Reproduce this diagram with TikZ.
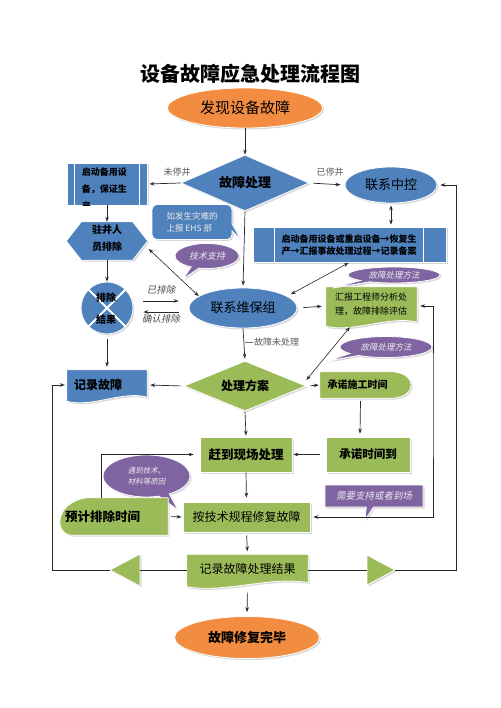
\documentclass[tikz,border=0pt]{standalone}
\usepackage{fontspec}
\setmainfont{Noto Sans CJK SC}
\newfontfamily\slfont{Noto Sans CJK SC}[FakeSlant=0.2]
\usetikzlibrary{shapes.geometric,shapes.callouts,arrows.meta,calc,shadows}
\definecolor{cblue}{RGB}{79,129,189}
\definecolor{cgreen}{RGB}{155,187,89}
\definecolor{cpurple}{RGB}{128,100,162}
\definecolor{corange}{RGB}{242,140,64}
\definecolor{cline}{RGB}{40,40,40}
\newcommand{\fs}[2]{\fontsize{#1}{#2}\selectfont}
\newcommand{\docshape}[2]{%
 \filldraw[#2] (#1.north west) -- (#1.north east) -- ($(#1.south east)+(0,-3)$)
  .. controls ($(#1.south west)!0.7!(#1.south east)+(0,-10)$) and ($(#1.south west)!0.3!(#1.south east)+(0,8)$) ..
  ($(#1.south west)+(0,1)$) -- cycle;}
\begin{document}
\begin{tikzpicture}[x=1pt,y=-1pt,
  shd/.style={drop shadow={opacity=0.3,shadow xshift=1.5pt,shadow yshift=-1.5pt}},
  nbase/.style={inner sep=0pt, draw=white, line width=0.8pt, shd, text=black},
  ell/.style={nbase, ellipse},
  rct/.style={nbase, rectangle},
  fillshape/.style={draw=white, line width=0.8pt, shd},
  arr/.style={-{Stealth[length=5pt,width=3.6pt]}, cline, line width=0.7pt},
  dbl/.style={{Stealth[length=5pt,width=3.6pt]}-{Stealth[length=5pt,width=3.6pt]}, cline, line width=0.6pt},
  lbl/.style={text=black!65, font=\fs{9}{11}},
  ilbl/.style={text=black!70, font=\slfont\fs{9.5}{11}},
  pcall/.style={fill=cpurple, draw=white, line width=0.8pt, shd, inner sep=0pt, text=white!92!black},
]
\fill[white] (0,0) rectangle (500,708);
\useasboundingbox (0,0) rectangle (500,708);

% title
\node[font=\bfseries\fs{20}{24}] (title) at (250,74) {设备故障应急处理流程图};

% top ellipse
\node[ell, fill=corange, minimum width=155pt, minimum height=40pt, font=\fs{15}{18}] (find) at (245,108) {发现设备故障};

% decision
\node[nbase, diamond, aspect=2.3, fill=cblue, minimum width=128pt, minimum height=56pt, font=\bfseries\fs{13}{15}] (dp) at (245,183) {故障处理};

% central control
\node[ell, fill=cblue, minimum width=92pt, minimum height=36pt, font=\fs{13}{15}] (ctrl) at (391,185) {联系中控};

% left predefined process
\node[rct, fill=cblue, minimum width=80pt, minimum height=42pt] (bk1) at (107,184) {};
\draw[white, line width=1pt] ([xshift=8pt]bk1.north west) -- ([xshift=8pt]bk1.south west)
  ([xshift=-8pt]bk1.north east) -- ([xshift=-8pt]bk1.south east);
\begin{scope}
\clip (bk1.north west) rectangle (bk1.south east);
\node[anchor=north west, align=left, font=\bfseries\fs{9}{17}, inner sep=0pt] (bk1t) at ([xshift=15pt,yshift=-5pt]bk1.north west) {启动备用设\\备，保证生\\产};
\end{scope}

% hexagon
\node[minimum width=81pt, minimum height=38pt, inner sep=0pt] (hx) at (107,241) {};
\filldraw[fill=cblue, fillshape] (hx.west) -- ([xshift=15pt]hx.north west) -- ([xshift=-15pt]hx.north east) -- (hx.east) -- ([xshift=-15pt]hx.south east) -- ([xshift=15pt]hx.south west) -- cycle;
\node[font=\bfseries\fs{10}{17}, align=center, inner sep=0pt] (hxt) at (107,238) {驻井人\\员排除};

% summing circle
\node[nbase, circle, fill=cblue, minimum size=52pt] (cx) at (107,308) {};
\draw[white, line width=2pt] (cx.north west) -- (cx.south east) (cx.north east) -- (cx.south west);
\node[font=\bfseries\fs{10}{22}, align=center, inner sep=0pt] (cxt) at (106,309) {排除\\结果};

% record fault (document)
\node[minimum width=80pt, minimum height=30pt, inner sep=0pt] (rec) at (107,385) {};
\docshape{rec}{fill=cblue, fillshape}
\node[font=\bfseries\fs{12}{14}] (rect) at ([xshift=-9pt]rec) {记录故障};

% maintenance ellipse
\node[ell, fill=cblue, minimum width=108pt, minimum height=40pt, font=\fs{13}{15}] (maint) at (243,308) {联系维保组};

% right predefined process
\node[rct, fill=cblue, minimum width=193pt, minimum height=35pt] (bk2) at (349.5,244.5) {};
\draw[white, line width=1pt] ([xshift=22pt]bk2.north west) -- ([xshift=22pt]bk2.south west)
  ([xshift=-23pt]bk2.north east) -- ([xshift=-23pt]bk2.south east);
\node[font=\bfseries\fs{9}{12.5}, align=left, inner sep=0pt] (bk2t) at (349,245) {启动备用设备或重启设备→恢复生\\产→汇报事故处理过程→记录备案};

% callouts
\node[rectangle callout, rounded corners=5pt, fill=cblue, draw=white, line width=0.8pt, shd, minimum width=80pt, minimum height=35pt, inner sep=0pt, callout absolute pointer={(241,240)}, text=white!92!black, font=\fs{8.5}{12}, align=left] (c1) at (192,222) {如发生灾难的\\上报 EHS 部};
\node[ellipse callout, pcall, minimum width=64pt, minimum height=25pt, callout absolute pointer={(183,279)}, font=\slfont\fs{9}{11}] (c2) at (207,256) {技术支持};

% report box (document)
\node[minimum width=91pt, minimum height=38pt, inner sep=0pt] (rep) at (371.5,306) {};
\docshape{rep}{fill=cgreen, fillshape}
\node[font=\fs{9}{14}, align=left, inner sep=0pt] (rept) at (371,304) {汇报工程师分析处\\理，故障排除评估};

\node[ellipse callout, pcall, minimum width=92pt, minimum height=16pt, callout absolute pointer={(333,288)}, font=\slfont\fs{8.5}{10}] (c3) at (394,275) {故障处理方法};
\node[ellipse callout, pcall, minimum width=92pt, minimum height=21pt, callout absolute pointer={(327,361)}, font=\slfont\fs{8.5}{10}] (c4) at (386,347) {故障处理方法};

% plan decision
\node[nbase, diamond, aspect=2.4, fill=cgreen, minimum width=122pt, minimum height=50pt, font=\bfseries\fs{12}{14}] (plan) at (245,386) {处理方案};

% promise construction time
\node[minimum width=93pt, minimum height=26pt, inner sep=0pt] (prom) at (366.5,385) {};
\filldraw[fill=cgreen, fillshape] (prom.north west) -- ([xshift=-20pt]prom.north east) .. controls ([xshift=4pt,yshift=-2pt]prom.north east) and ([xshift=4pt,yshift=2pt]prom.south east) .. ([xshift=-20pt]prom.south east) -- (prom.south west) -- cycle;
\node[font=\bfseries\fs{10}{12}] (promt) at ([xshift=-9pt]prom) {承诺施工时间};

% promise time reached
\node[rct, fill=cgreen, minimum width=84pt, minimum height=35pt, font=\bfseries\fs{11.5}{13}] (due) at (368,454.5) {承诺时间到};

% go to site
\node[rct, fill=cgreen, minimum width=92pt, minimum height=35pt, font=\bfseries\fs{12.5}{14}] (site) at (246,454.5) {赶到现场处理};

% callout reasons
\node[ellipse callout, pcall, minimum width=87pt, minimum height=42pt, callout absolute pointer={(178,510)}, font=\slfont\fs{7.5}{11}, align=center] (c5) at (146.5,476) {遇到技术、\\材料等原因};

% estimated time
\node[minimum width=111pt, minimum height=37pt, inner sep=0pt] (est) at (112.5,516.5) {};
\filldraw[fill=cgreen, fillshape] (est.north east) -- ([xshift=30pt]est.north west) .. controls ([xshift=-2pt,yshift=-4pt]est.north west) and ([xshift=-4pt]est.south west) .. ([xshift=16pt]est.south west) -- (est.south east) -- cycle;
\node[font=\bfseries\fs{12.5}{14}] (estt) at ([xshift=-10pt]est) {预计排除时间};

% fix
\node[rct, fill=cgreen, minimum width=127pt, minimum height=30pt, font=\fs{12}{14}] (fix) at (246.5,517) {按技术规程修复故障};

% need support callout
\node[rectangle callout, pcall, minimum width=98pt, minimum height=22pt, callout absolute pointer={(365,520)}, font=\slfont\fs{9.5}{11}] (c6) at (374,496) {需要支持或者到场};

% record result (document)
\node[minimum width=121pt, minimum height=31pt, inner sep=0pt] (res) at (247.5,570) {};
\docshape{res}{fill=cgreen, fillshape}
\node[font=\fs{12}{14}] (rest) at ([yshift=1pt]res) {记录故障处理结果};

% end ellipse
\node[ell, fill=corange, minimum width=145pt, minimum height=42pt, font=\bfseries\fs{13}{15}] (done) at (247,637.5) {故障修复完毕};

% triangles
\coordinate (tlt) at (110,570); \coordinate (tlb) at (140,570);
\filldraw[fill=cgreen, fillshape] (tlt) -- (140,554) -- (140,586) -- cycle;
\coordinate (trb) at (367,570); \coordinate (trt) at (395,570);
\filldraw[fill=cgreen, fillshape] (trt) -- (367,555) -- (367,585) -- cycle;
\coordinate (lc) at (52,570);
\coordinate (rc) at (456,570);
\coordinate (vx) at (433,400);

% labels
\node[lbl] (l1) at (177,172) {未停井};
\node[lbl] (l2) at (330,172) {已停井};
\node[ilbl] (l3) at (161,290) {已排除};
\node[ilbl] (l4) at (161,319) {确认排除};
\draw[cline!70, line width=0.5pt] (245,342) -- (253,342);
\node[lbl, anchor=west, inner sep=0pt] (l5) at (254,342) {故障未处理};

% connectors
\draw[arr] (find.south) -- (dp.north);
\draw[arr, shorten >=2pt] (dp.west) -- (bk1.east);
\draw[arr, shorten <=4pt, shorten >=4pt] (dp.east) -- (ctrl.west);
\draw[arr] (bk1.south) -- (hx.north);
\draw[arr] (hx.south) -- (cx.north);
\draw[arr, shorten <=5pt, shorten >=3pt] (cx.south) -- (rec.north);
\draw[arr] ($(cx.east)+(10,-7)$) -- ($(maint.west)+(-10,-7)$);
\draw[arr] ($(maint.west)+(-10,4)$) -- ($(cx.east)+(10,4)$);
\draw[dbl] ($(hx.east)+(1,8)$) -- (maint.165);
\draw[arr, shorten >=2pt] (dp.south) -- (maint.north);
\draw[dbl, shorten <=2pt, shorten >=2pt] (ctrl.south) -- (ctrl.south |- bk2.north);
\draw[dbl, shorten <=4pt, shorten >=1pt] (maint.15) -- (bk2.south);
\draw[arr, shorten <=6pt, shorten >=4pt] (maint.east) -- (rep.west);
\draw[arr, shorten >=2pt] (maint.south) -- (plan.north);
\draw[dbl] ($(rep.south west)+(24,2)$) -- ($(plan.east)+(0,-6)$);
\draw[arr, shorten <=4pt, shorten >=1pt] (plan.east) -- (prom.west);
\draw[arr, shorten <=3pt, shorten >=3pt] (plan.west) -- (rec.east);
\draw[arr, shorten >=1pt] (plan.south) -- (site.north);
\draw[arr] ([xshift=-6pt,yshift=-3pt]prom.south) -- ([xshift=-8pt,yshift=3pt]due.north);
\draw[arr, shorten <=6pt, shorten >=1pt] (due.west) -- (site.east);
\draw[arr, shorten >=4pt] (site.south) -- (fix.north);
\draw[arr, shorten >=6pt] ($(est.north west)+(45,0)$) |- (site.west);
\draw[arr, shorten <=3pt, shorten >=1pt] (est.east) -- (fix.west);
\draw[arr, shorten <=3pt, shorten >=3pt] (fix.south) -- (res.north);
\draw[arr, shorten <=7pt, shorten >=4pt] (res.south) -- (done.north);
\draw[cline, line width=0.7pt] (res.west) -- (tlb);
\draw[arr, shorten >=2pt] (tlt) -- (lc) |- (rec.west);
\draw[cline, line width=0.7pt] (res.east) -- (trb);
\draw[arr, shorten >=3pt] (trt) -- (rc) |- (ctrl.east);
\draw[dbl, shorten <=3pt, shorten >=3pt] (rep.east) -| (vx) |- (fix.east);
\end{tikzpicture}
\end{document}
